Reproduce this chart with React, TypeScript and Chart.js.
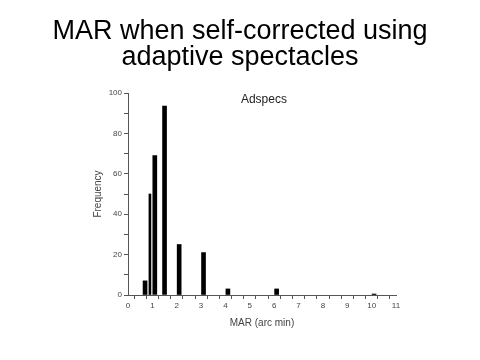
import React, { useEffect, useRef } from "react";
import { Chart, registerables } from "chart.js";

Chart.register(...registerables);

const titleLines = ["MAR when self-corrected using", "adaptive spectacles"];
const panelLabel = "Adspecs";
const xAxisTitle = "MAR (arc min)";
const yAxisTitle = "Frequency";

const marValues = [0.7, 1.1, 1.5, 2.1, 3.1, 4.1, 6.1, 10.1];
const frequencies = [7, 69, 93.5, 25, 21, 3, 3, 0.5];
const thinMarValues = [0.9];
const thinFrequencies = [50];

const xMin = 0;
const xMax = 11;
const yMin = 0;
const yMax = 100;

const FONT = "'Liberation Sans', Arial, sans-serif";

const panelLabelPlugin = {
  id: "panelLabel",
  afterDraw(chart: any) {
    const { ctx, scales } = chart;
    const x = scales.x.getPixelForValue(5.58);
    const y = scales.y.getPixelForValue(96.9);
    ctx.save();
    ctx.font = `12px ${FONT}`;
    ctx.fillStyle = "#222";
    ctx.textAlign = "center";
    ctx.textBaseline = "middle";
    ctx.fillText(panelLabel, x, y);
    ctx.restore();
  },
};

export default function App() {
  const ref = useRef<HTMLCanvasElement | null>(null);

  useEffect(() => {
    if (!ref.current) return;
    const tickFont = { family: FONT, size: 8 };
    const chart = new Chart(ref.current, {
      type: "bar",
      data: {
        datasets: [
          {
            data: marValues.map((x, i) => ({ x, y: frequencies[i] })),
            backgroundColor: "#000",
            barThickness: 4,
            grouped: false,
          } as any,
          {
            data: thinMarValues.map((x, i) => ({ x, y: thinFrequencies[i] })),
            backgroundColor: "#000",
            barThickness: 2,
            grouped: false,
          } as any,
        ],
      },
      options: {
        animation: false,
        responsive: false,
        maintainAspectRatio: false,
        layout: { padding: { left: 92, right: 84, top: 93, bottom: 31 } },
        plugins: {
          legend: { display: false },
          tooltip: { enabled: false },
          title: { display: false },
        },
        scales: {
          x: {
            type: "linear",
            min: xMin,
            max: xMax,
            offset: false,
            grid: { drawOnChartArea: false, drawTicks: true, tickLength: 4, color: "#555" },
            border: { display: true, color: "#555", width: 1 },
            ticks: {
              stepSize: 0.5,
              autoSkip: false,
              maxRotation: 0,
              padding: 2,
              color: "#444",
              font: tickFont,
              callback: (v: any) => (Number(v) % 1 === 0 ? String(v) : ""),
            },
            title: {
              display: true,
              text: xAxisTitle,
              color: "#444",
              font: { family: FONT, size: 10 },
              padding: { top: 4, bottom: 0 },
            },
            afterFit: (s: any) => {
              s.height = 34;
            },
          },
          y: {
            type: "linear",
            min: yMin,
            max: yMax,
            grid: { drawOnChartArea: false, drawTicks: true, tickLength: 4, color: "#555" },
            border: { display: true, color: "#555", width: 1 },
            ticks: {
              stepSize: 10,
              autoSkip: false,
              padding: 2,
              color: "#444",
              font: tickFont,
              callback: (v: any) => (Number(v) % 20 === 0 ? String(v) : ""),
            },
            title: {
              display: true,
              text: yAxisTitle,
              color: "#444",
              font: { family: FONT, size: 10 },
              padding: { top: 0, bottom: 4 },
            },
            afterFit: (s: any) => {
              s.width = 36;
            },
          },
        },
      },
      plugins: [panelLabelPlugin],
    });
    return () => chart.destroy();
  }, []);

  return (
    <div style={{ position: "fixed", left: 0, top: 0, width: 480, height: 360, background: "#fff" }}>
      <canvas ref={ref} width={480} height={360} style={{ position: "absolute", left: 0, top: 0, width: 480, height: 360 }} />
      <div
        style={{
          position: "absolute",
          left: 0,
          top: 17,
          width: 480,
          textAlign: "center",
          fontFamily: FONT,
          fontSize: 27,
          lineHeight: "26px",
          color: "#000",
        }}
      >
        {titleLines.map((t) => (
          <div key={t}>{t}</div>
        ))}
      </div>
    </div>
  );
}
